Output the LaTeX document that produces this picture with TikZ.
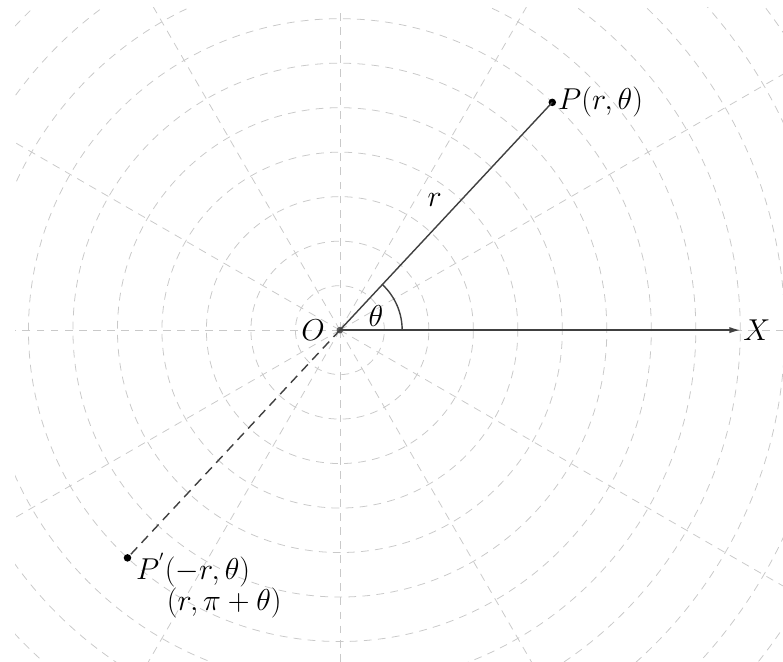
\RequirePackage{fix-cm}
\documentclass[tikz,border=0pt]{standalone}
\usepackage{amsmath,amssymb}
\usepackage{tikz}
\usetikzlibrary{arrows.meta}

\begin{document}
\begin{tikzpicture}[font=\fontsize{19.3}{23}\selectfont,
  polgrid/.style={gray!42, line width=0.5pt, dash pattern=on 5pt off 4pt},
  seg/.style={black!75, line width=0.9pt},
  pt/.style={circle, fill=black, inner sep=1.7pt}]
\useasboundingbox (-7.64,-7.46) rectangle (9.96,7.42);
\begin{scope}
\clip (-7.3,-7.46) rectangle (9.96,7.25);
\foreach \k in {1,...,13} \draw[polgrid] (0,0) circle (\k);
\foreach \a in {0,30,...,330} \draw[polgrid] (0,0) -- (\a:14);
\end{scope}
\node[circle, fill=black!65, inner sep=1.5pt] (O) at (0,0) {};
\node[pt] (P) at (47:7) {};
\node[pt] (Pp) at (227:7) {};
\coordinate (X) at (9,0);
\node (Olab) at (-0.6,0) {$O$};
\node (Xlab) at (9.37,0) {$X$};
\node (th) at (0.81,0.31) {$\theta$};
\node (rlab) at (2.13,2.92) {$r$};
\node[right, inner sep=1pt] (Plab) at (P.east) {$P(r,\theta)$};
\node (Pplab) at (-3.3,-5.39) {$P^{'}(-r,\theta)$};
\node (Pplab2) at (-2.6,-6.13) {$(r,\pi+\theta)$};
\draw[seg, -{Latex[length=7pt,width=4pt]}] (O.center) to (X);
\draw[seg] (O.center) to (P.center);
\draw[seg, dash pattern=on 6pt off 4pt] (O.center) to (Pp.center);
\draw[seg] (1.4,0) arc (0:47:1.4);
\end{tikzpicture}
\end{document}
